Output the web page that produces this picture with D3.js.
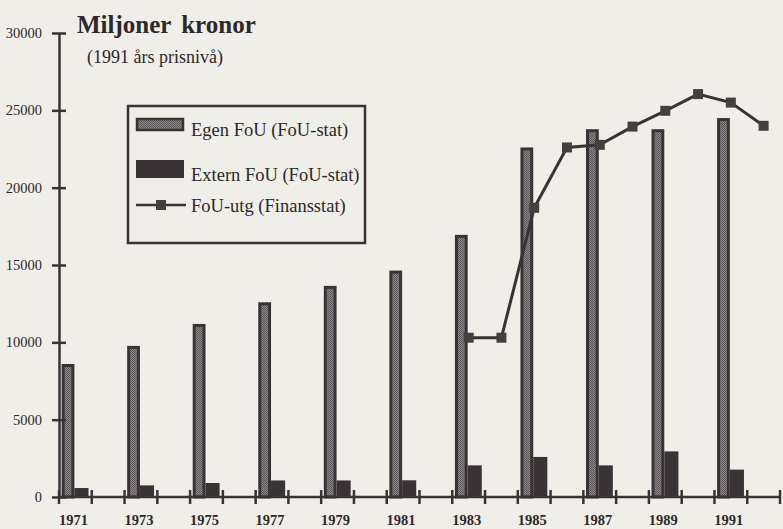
<!DOCTYPE html>
<html>
<head>
<meta charset="utf-8">
<script src="https://cdn.jsdelivr.net/npm/d3@7"></script>
<style>
  html, body { margin: 0; padding: 0; background: #efeee9; }
  svg { display: block; }
</style>
</head>
<body>
<svg id="chart" width="783" height="529"></svg>
<script>
// years on the x axis (one band per year)
const years = d3.range(1971, 1993);
const labelYears = [1971, 1973, 1975, 1977, 1979, 1981, 1983, 1985, 1987, 1989, 1991];

// FoU-stat, every second year (Mkr, 1991 prices)
const barYears = [1971, 1973, 1975, 1977, 1979, 1981, 1983, 1985, 1987, 1989, 1991];
const egenFoU = [8600, 9770, 11190, 12590, 13650, 14640, 16950, 22600, 23780, 23780, 24500];
const externFoU = [580, 750, 905, 1070, 1070, 1080, 2045, 2590, 2045, 2950, 1770];

// Finansstatistik
const lineYears = [1983, 1984, 1985, 1986, 1987, 1988, 1989, 1990, 1991, 1992];
const fouUtg = [10300, 10300, 18700, 22600, 22770, 23950, 24970, 26050, 25500, 24000];

const yTicks = [0, 5000, 10000, 15000, 20000, 25000, 30000];

const dark = '#3a3335';
const ink = '#2e2829';
const serif = '"Liberation Serif", "Times New Roman", serif';

const svg = d3.select('#chart');

// stippled fill for the Egen FoU bars
const defs = svg.append('defs');
const pat = defs.append('pattern')
    .attr('id', 'stipple')
    .attr('width', 2).attr('height', 2)
    .attr('patternUnits', 'userSpaceOnUse');
pat.append('rect').attr('width', 2).attr('height', 2).attr('fill', '#8c8788');
pat.append('rect').attr('width', 1).attr('height', 1).attr('fill', '#5c5658');
pat.append('rect').attr('x', 1).attr('y', 1).attr('width', 1).attr('height', 1).attr('fill', '#5c5658');

const x = d3.scaleBand().domain(years).range([59, 780]).padding(0);
const y = d3.scaleLinear().domain([0, 30000]).range([497, 33]);
const bw = x.bandwidth();

// bars
const barData = barYears.map((yr, i) => ({ year: yr, egen: egenFoU[i], extern: externFoU[i] }));

svg.append('g').selectAll('rect')
    .data(barData)
    .enter().append('rect')
    .attr('x', d => x(d.year) + bw * 0.47)
    .attr('width', bw * 0.43)
    .attr('y', d => y(d.extern))
    .attr('height', d => y(0) - y(d.extern))
    .attr('fill', dark);

svg.append('g').selectAll('rect')
    .data(barData)
    .enter().append('rect')
    .attr('x', d => x(d.year) + bw * 0.08 + 1.5)
    .attr('width', bw * 0.39 - 3)
    .attr('y', d => y(d.egen) + 1.5)
    .attr('height', d => y(0) - y(d.egen) - 1.5)
    .attr('fill', 'url(#stipple)')
    .attr('stroke', dark)
    .attr('stroke-width', 3);

// y axis
const yAxis = svg.append('g')
    .attr('transform', `translate(${x.range()[0]},0)`)
    .call(d3.axisLeft(y).tickValues(yTicks).tickSize(7).tickSizeOuter(0).tickPadding(10)
        .tickFormat(d => d));
yAxis.select('.domain').attr('stroke', dark).attr('stroke-width', 2.5);
yAxis.selectAll('.tick line').attr('x1', -7).attr('x2', 7).attr('stroke', dark).attr('stroke-width', 2.5);
yAxis.selectAll('.tick text')
    .attr('font-family', serif).attr('font-size', 14.5).attr('fill', ink);

// x axis: line, ticks at band edges, labels under odd years
const xAxis = svg.append('g').attr('transform', `translate(0,${y(0)})`);
xAxis.append('line')
    .attr('x1', x.range()[0]).attr('x2', x.range()[1])
    .attr('stroke', dark).attr('stroke-width', 2.5);
xAxis.selectAll('.edge')
    .data(years.map(d => x(d)).concat([x.range()[1]]))
    .enter().append('line')
    .attr('class', 'edge')
    .attr('x1', d => d).attr('x2', d => d)
    .attr('y1', -7).attr('y2', 7)
    .attr('stroke', dark).attr('stroke-width', 2.5);
const xLab = svg.append('g')
    .attr('transform', `translate(0,${y(0) + 18})`)
    .call(d3.axisBottom(x).tickValues(labelYears).tickSize(0).tickPadding(0));
xLab.select('.domain').remove();
xLab.selectAll('.tick text')
    .attr('dy', '0.71em')
    .attr('dx', -2)
    .attr('font-family', serif).attr('font-size', 14.5).attr('font-weight', 'bold')
    .attr('fill', ink);

// line: FoU-utg
const lineData = lineYears.map((yr, i) => ({ year: yr, v: fouUtg[i] }));
const cx = d => x(d.year) + bw / 2;
svg.append('path')
    .datum(lineData)
    .attr('fill', 'none')
    .attr('stroke', dark)
    .attr('stroke-width', 3)
    .attr('d', d3.line().x(cx).y(d => y(d.v)));
svg.append('g').selectAll('rect')
    .data(lineData)
    .enter().append('rect')
    .attr('x', d => cx(d) - 5).attr('y', d => y(d.v) - 5)
    .attr('width', 10).attr('height', 10)
    .attr('fill', '#463e40');

// titles
svg.append('text')
    .attr('x', 77).attr('y', 33)
    .attr('font-family', serif).attr('font-size', 25).attr('font-weight', 'bold')
    .attr('fill', ink)
    .attr('word-spacing', 4)
    .text('Miljoner kronor');
svg.append('text')
    .attr('x', 87).attr('y', 63)
    .attr('font-family', serif).attr('font-size', 18)
    .attr('fill', ink)
    .text('(1991 års prisnivå)');

// legend
const lg = svg.append('g');
lg.append('rect')
    .attr('x', 128).attr('y', 106).attr('width', 237).attr('height', 137)
    .attr('fill', 'none').attr('stroke', dark).attr('stroke-width', 2.5);
lg.append('rect')
    .attr('x', 137).attr('y', 119).attr('width', 46).attr('height', 11)
    .attr('fill', 'url(#stipple)').attr('stroke', dark).attr('stroke-width', 2.5);
lg.append('rect')
    .attr('x', 136).attr('y', 160).attr('width', 48).attr('height', 18)
    .attr('fill', dark);
lg.append('line')
    .attr('x1', 136).attr('x2', 186).attr('y1', 205).attr('y2', 205)
    .attr('stroke', dark).attr('stroke-width', 2.5);
lg.append('rect')
    .attr('x', 156).attr('y', 200).attr('width', 10).attr('height', 10)
    .attr('fill', '#463e40');
const legendText = ['Egen FoU (FoU-stat)', 'Extern FoU (FoU-stat)', 'FoU-utg (Finansstat)'];
const legendY = [136, 181, 212];
lg.selectAll('.lt')
    .data(legendText)
    .enter().append('text')
    .attr('class', 'lt')
    .attr('x', 191).attr('y', (d, i) => legendY[i])
    .attr('font-family', serif).attr('font-size', 18.5)
    .attr('fill', ink)
    .text(d => d);
</script>
</body>
</html>
